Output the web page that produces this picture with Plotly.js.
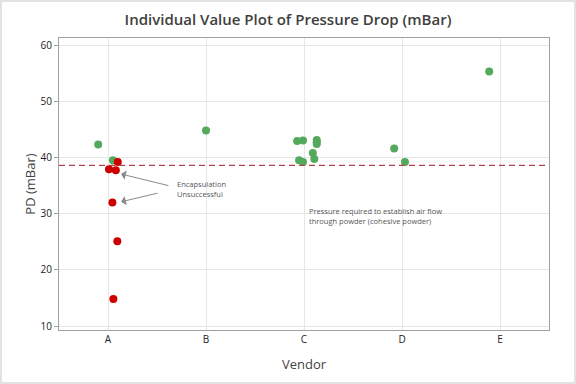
<!DOCTYPE html>
<html>
<head>
<meta charset="utf-8">
<script src="https://cdn.plot.ly/plotly-3.0.1.min.js"></script>
<style>
html,body{margin:0;padding:0;background:#fff;}
#wrap{position:relative;width:576px;height:384px;}
#chart{width:576px;height:384px;}
#frame{position:absolute;left:0;top:0;width:576px;height:384px;box-sizing:border-box;border:2px solid #e3e3e3;pointer-events:none;}
</style>
</head>
<body>
<div id="wrap"><div id="chart"></div><div id="frame"></div></div>
<script>
// Categories
const vendors = ["A", "B", "C", "D", "E"];

// Successful encapsulation (green)
const okVendor = ["A", "A", "B", "C", "C", "C", "C", "C", "C", "C", "C", "C", "D", "D", "E"];
const okJitter = [-0.10, 0.05, 0.00, -0.07, -0.01, 0.13, 0.13, 0.09, 0.105, -0.05, -0.01, 0.13, -0.08, 0.03, -0.11];
const okValue  = [42.3, 39.5, 44.8, 42.9, 43.0, 43.1, 42.4, 40.8, 39.7, 39.5, 39.2, 42.7, 41.6, 39.2, 55.3];

// Encapsulation unsuccessful (red)
const failVendor = ["A", "A", "A", "A", "A", "A"];
const failJitter = [0.10, 0.01, 0.08, 0.045, 0.095, 0.055];
const failValue  = [39.2, 37.9, 37.7, 32.0, 25.1, 14.8];

// Reference line
const refValue = 38.6;

const toX = (v, j) => v.map((c, i) => vendors.indexOf(c) + j[i]);

const traces = [
  {
    type: "scatter", mode: "markers",
    x: toX(okVendor, okJitter), y: okValue,
    marker: {color: "#55a95d", size: 8},
    showlegend: false, hoverinfo: "skip"
  },
  {
    type: "scatter", mode: "markers",
    x: toX(failVendor, failJitter), y: failValue,
    marker: {color: "#cc0000", size: 8},
    showlegend: false, hoverinfo: "skip"
  }
];

const layout = {
  width: 576, height: 384,
  margin: {l: 59, r: 27, t: 38, b: 54},
  paper_bgcolor: "#ffffff", plot_bgcolor: "#ffffff",
  font: {family: "Open Sans, Noto Sans, sans-serif", color: "#333"},
  title: {
    text: "Individual Value Plot of Pressure Drop (mBar)",
    font: {size: 15, color: "#404040", weight: 600, family: "Open Sans, Noto Sans, sans-serif"},
    x: 0.5, xref: "container", xanchor: "center",
    y: 0.948, yref: "container", yanchor: "middle"
  },
  xaxis: {
    range: [-0.5, 4.5],
    tickvals: vendors.map((v, i) => i), ticktext: vendors,
    showgrid: true, gridcolor: "#e6e6e6", gridwidth: 1,
    zeroline: false, showline: true, linecolor: "#a0a0a0", linewidth: 1, mirror: true,
    ticks: "", tickfont: {size: 10, color: "#222"},
    title: {text: "Vendor", font: {size: 13, color: "#444", weight: 500}, standoff: 14}
  },
  yaxis: {
    range: [9.29, 61.25],
    tickvals: [10, 20, 30, 40, 50, 60],
    showgrid: true, gridcolor: "#e6e6e6", gridwidth: 1,
    zeroline: false, showline: true, linecolor: "#a0a0a0", linewidth: 1, mirror: true,
    ticks: "outside", ticklen: 4, tickcolor: "#a0a0a0", tickfont: {size: 10, color: "#222"},
    title: {text: "PD (mBar)", font: {size: 13, color: "#444", weight: 500}, standoff: 2}
  },
  shapes: [{
    type: "line", xref: "paper", x0: 0, x1: 1, yref: "y", y0: refValue, y1: refValue,
    line: {color: "#b0424e", width: 1.2, dash: "6px,4px"}
  }],
  annotations: [
    {
      x: 0.133, y: 37.05, xref: "x", yref: "y", text: "",
      showarrow: true, arrowhead: 1, arrowsize: 1.6, arrowwidth: 1, arrowcolor: "#8a8a8a",
      ax: 49, ay: 12
    },
    {
      x: 0.133, y: 32.1, xref: "x", yref: "y", text: "",
      showarrow: true, arrowhead: 1, arrowsize: 1.6, arrowwidth: 1, arrowcolor: "#8a8a8a",
      ax: 38, ay: -9
    },
    {
      x: 0.685, y: 34.4, xref: "x", yref: "y", xanchor: "left", yanchor: "middle", align: "left",
      text: "Encapsulation<br>Unsuccessful", showarrow: false,
      font: {size: 7.5, color: "#555"}
    },
    {
      x: 2.03, y: 29.66, xref: "x", yref: "y", xanchor: "left", yanchor: "middle", align: "left",
      text: "Pressure required to establish air flow<br>through powder (cohesive powder)", showarrow: false,
      font: {size: 7.5, color: "#555"}
    }
  ]
};

Plotly.newPlot("chart", traces, layout, {displayModeBar: false, staticPlot: true});
</script>
</body>
</html>
